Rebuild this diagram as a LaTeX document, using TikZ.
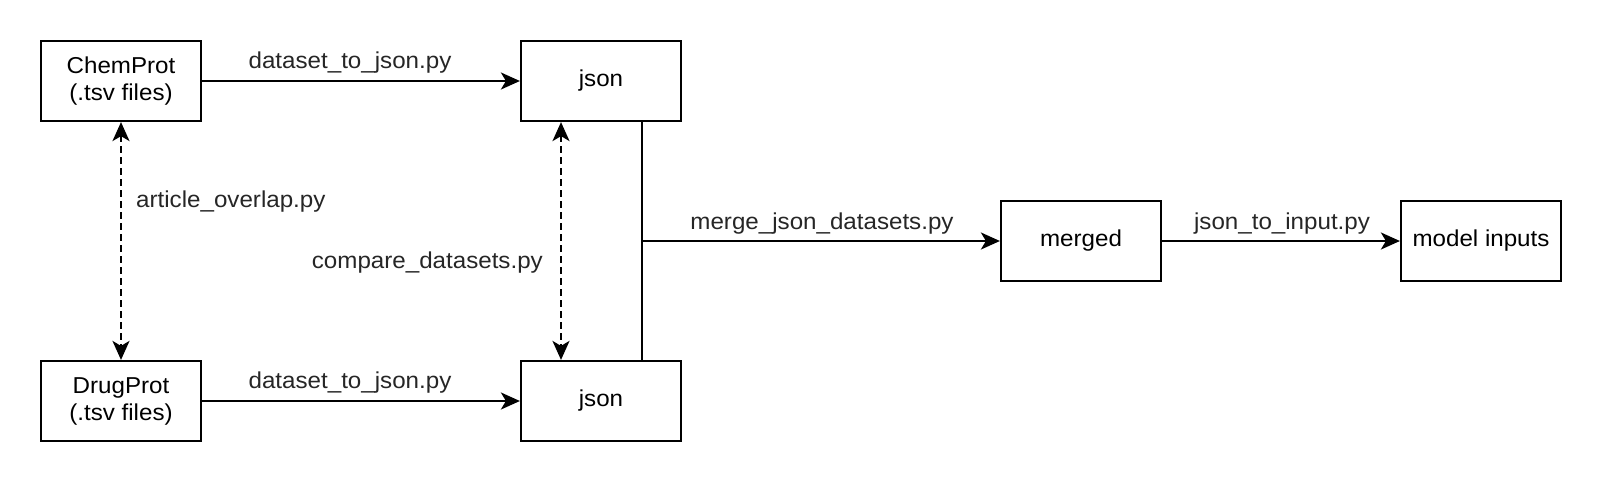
\documentclass[tikz,border=0pt]{standalone}
\usepackage{fontspec}
\setmainfont{Liberation Sans}[FakeStretch=1.05]
\usetikzlibrary{arrows.meta}
\begin{document}
\begin{tikzpicture}[x=1pt,y=-1pt,
  font=\fontsize{23}{27}\selectfont,
  box/.style={draw=black,line width=2.2pt,minimum width=160pt,minimum height=80pt,align=center,inner sep=0pt,fill=white},
  lbl/.style={inner sep=0pt,text=black!85},
  tip/.tip={Stealth[length=19pt,width=17pt,inset=5pt]},
  arr/.style={line width=2.2pt,-tip},
  darr/.style={line width=2.2pt,dash pattern=on 7pt off 4pt,tip-tip}
]
\useasboundingbox[fill=white] (0,0) rectangle (1602,482);
\node[box] (chem) at (121,81) {ChemProt\\(.tsv files)};
\node[box] (jsonA) at (601,81) {json};
\node[box] (drug) at (121,401) {DrugProt\\(.tsv files)};
\node[box] (jsonB) at (601,401) {json};
\node[box] (merged) at (1081,241) {merged};
\node[box] (model) at (1481,241) {model inputs};

\draw[arr] (chem) -- (jsonA);
\draw[arr] (drug) -- (jsonB);
\draw[darr] (chem.south) -- (drug.north);
\draw[darr] ([xshift=-40pt]jsonA.south) -- ([xshift=-40pt]jsonB.north);
\draw[line width=2.2pt] ([xshift=41pt]jsonA.south) coordinate (jtop) -- ([xshift=41pt]jsonB.north);
\coordinate (jmid) at (jtop |- merged.west);
\draw[arr] (jmid) -- (merged);
\draw[arr] (merged) -- (model);

\node[lbl,anchor=base] (l1) at (350,68) {dataset\_to\_json.py};
\node[lbl,anchor=base] (l2) at (350,388) {dataset\_to\_json.py};
\node[lbl,anchor=base west] (l3) at (136,207) {article\_overlap.py};
\node[lbl,anchor=base east] (l4) at (543,268) {compare\_datasets.py};
\node[lbl,anchor=base] (l5) at (822,229) {merge\_json\_datasets.py};
\node[lbl,anchor=base] (l6) at (1282,229) {json\_to\_input.py};
\end{tikzpicture}
\end{document}
